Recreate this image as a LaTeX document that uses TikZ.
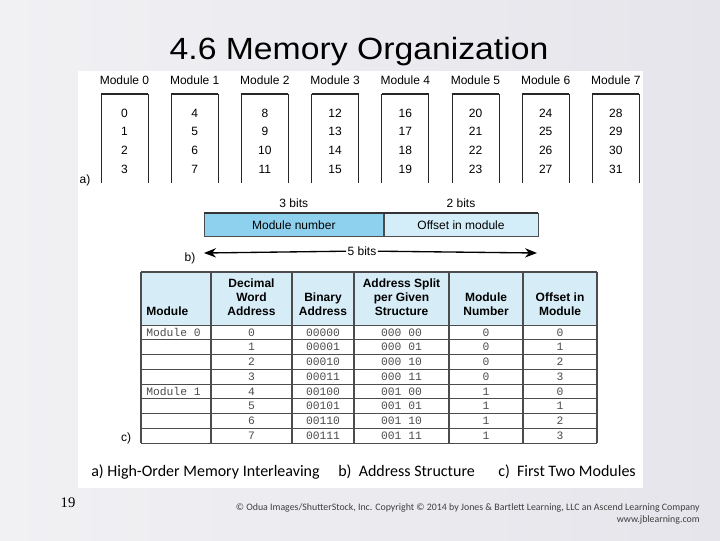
\documentclass[tikz,border=0pt]{standalone}
\usepackage{fontspec}
\setmainfont{Liberation Sans}
\newfontfamily\capfont{Carlito}
\newfontfamily\codefont{Liberation Mono}
\newfontfamily\pagefont{Liberation Serif}
\usepackage{tikz}
\usetikzlibrary{arrows.meta,shapes,calc,positioning}
\definecolor{slideLeft}{RGB}{241,241,244}
\definecolor{slideRight}{RGB}{229,229,235}
\definecolor{azulMedio}{RGB}{142,209,239}
\definecolor{azulClaro}{RGB}{212,238,249}
\definecolor{azulTabla}{RGB}{214,237,248}
\tikzstyle{modlabel} =[font=\fontsize{9}{10}\selectfont, inner sep=0pt]
\tikzstyle{word}     =[font=\fontsize{9}{10}\selectfont, inner sep=0pt]
\tikzstyle{modbox}   =[draw=black!85, line width=0.6pt]
\tikzstyle{field}    =[draw=black!70, line width=0.5pt, inner sep=0pt,
                       font=\fontsize{9}{10}\selectfont,
                       minimum height=17.25pt]
\tikzstyle{headtext} =[font=\fontsize{9}{10.5}\selectfont\bfseries,
                       align=center, inner sep=0pt]
\tikzstyle{bodytext} =[font=\fontsize{8.5}{10}\codefont,
                       text=black!70, inner sep=0pt]
\tikzstyle{tablerule}=[draw=black!70, line width=0.9pt]
\tikzstyle{rowrule}  =[draw=black!70, line width=0.55pt]
\tikzstyle{caption}  =[font=\fontsize{12}{14}\capfont, inner sep=0pt]

\begin{document}
\begin{tikzpicture}[x=0.75pt,y=-0.75pt]
\useasboundingbox (0,0) rectangle (720,540);
\shade[left color=slideLeft,right color=slideRight] (0,0) rectangle (720,540);
\fill[white] (78,71) rectangle (643,488);

\node (title) [anchor=base, inner sep=0pt,
               font=\fontsize{23}{27}\selectfont]
      at (359,59) {\scalebox{1.1}[1]{4.6 Memory Organization}};

%%%%%%%%%%%%%%%%%%%%%%%%%%%%%%%%%%%%%%%%%%%%%%%%
%%%%%%%%%%     a) Eight modules       %%%%%%%%%%
%%%%%%%%%%%%%%%%%%%%%%%%%%%%%%%%%%%%%%%%%%%%%%%%
\begin{scope}
\foreach \m in {0,...,7}{
	\pgfmathsetmacro\cx{124.5+70.2*\m}
	\node (mod\m) [modlabel] at (\cx,80){Module \m};
	\draw [modbox] (\cx-23.5,183) -- (\cx-23.5,94) -- (\cx+23.5,94) -- (\cx+23.5,183);
	\draw [modbox, line width=1.1pt] (\cx-23.5,94) -- (\cx+23.5,94);
	\foreach \r in {0,...,3}{
		\pgfmathtruncatemacro\w{4*\m+\r}
		\node (w\w) [word] at (\cx,{113+18.7*\r}){\w};
	}
}
\node (La) [modlabel] at (85,180){a)};
\end{scope}

%%%%%%%%%%%%%%%%%%%%%%%%%%%%%%%%%%%%%%%%%%%%%%%%
%%%%%%%%%%    b) Address structure    %%%%%%%%%%
%%%%%%%%%%%%%%%%%%%%%%%%%%%%%%%%%%%%%%%%%%%%%%%%
\begin{scope}
\node (modnum) [field, fill=azulMedio, minimum width=134.25pt,
                anchor=north west] at (204,213){Module number};
\node (offset) [field, fill=azulClaro, minimum width=115.5pt,
                anchor=west] at (modnum.east){Offset in module};
\draw [line width=1pt, black!80] (modnum.north west) -- (offset.north east);

\node (bits3) [word, above=4pt of modnum]{3 bits};
\node (bits2) [word, above=4pt of offset]{2 bits};

\coordinate (arrL) at (204,253);
\coordinate (arrR) at (537,253);
\node (bits5) [word, fill=white, inner xsep=1pt] at (362,251){5 bits};
\draw [-{Stealth[length=9pt,width=7pt]}, line width=1pt] (bits5) -- (arrL);
\draw [-{Stealth[length=9pt,width=7pt]}, line width=1pt] (bits5) -- (arrR);

\node (Lb) [modlabel] at (190,258){b)};
\end{scope}

%%%%%%%%%%%%%%%%%%%%%%%%%%%%%%%%%%%%%%%%%%%%%%%%
%%%%%%%%%%   c) First two modules     %%%%%%%%%%
%%%%%%%%%%%%%%%%%%%%%%%%%%%%%%%%%%%%%%%%%%%%%%%%
\begin{scope}
\fill [azulTabla] (141,272) rectangle (597,325);
\foreach \r in {0,...,8}
	\draw [rowrule] (141,{325+14.75*\r}) -- (597,{325+14.75*\r});
\draw [tablerule] (141,272) -- (597,272);
\foreach \x in {141,211,292,354,449,523,597}
	\draw [tablerule] (\x,272) -- (\x,443);

% header, bottom aligned
\node (hMod) [headtext, anchor=south west] at (146,316){Module};
\node (hDec) [headtext, anchor=south] at (251.5,316){Decimal\\Word\\Address};
\node (hBin) [headtext, anchor=south] at (323,316){Binary\\Address};
\node (hSpl) [headtext, anchor=south] at (401.5,316){Address Split\\per Given\\Structure};
\node (hNum) [headtext, anchor=south] at (486,316){Module\\Number};
\node (hOff) [headtext, anchor=south] at (560,316){Offset in\\Module};

\node (m0) [bodytext, anchor=west] at (146,332.4){Module 0};
\node (m1) [bodytext, anchor=west] at (146,{332.4+14.75*4}){Module 1};
\foreach \d/\b/\s/\n/\o [count=\i from 0] in
	{0/00000/000 00/0/0, 1/00001/000 01/0/1, 2/00010/000 10/0/2, 3/00011/000 11/0/3,
	 4/00100/001 00/1/0, 5/00101/001 01/1/1, 6/00110/001 10/1/2, 7/00111/001 11/1/3}{
	\node (dec\i) [bodytext] at (251.5,{332.4+14.75*\i}){\d};
	\node (bin\i) [bodytext] at (323,{332.4+14.75*\i}){\b};
	\node (spl\i) [bodytext] at (401.5,{332.4+14.75*\i}){\s};
	\node (num\i) [bodytext] at (486,{332.4+14.75*\i}){\n};
	\node (off\i) [bodytext] at (560,{332.4+14.75*\i}){\o};
}

\node (Lc) [modlabel] at (126,438){c)};
\end{scope}

% captions and footer
\node (capA) [caption, anchor=base west] at (91,476){a) High-Order Memory Interleaving};
\node (capB) [caption, anchor=base west] at (338,476){b)\ \ Address Structure};
\node (capC) [caption, anchor=base west] at (498,476){c)\ \ First Two Modules};

\node (copy) [anchor=base east, inner sep=0pt, text=black!75,
              font=\fontsize{7.4}{9}\capfont] at (700,510)
      {\textcopyright\ Odua Images/ShutterStock, Inc. Copyright \textcopyright\ 2014 by Jones \& Bartlett Learning, LLC an Ascend Learning Company};
\node (web) [anchor=base east, inner sep=0pt, text=black!75,
             font=\fontsize{7.4}{9}\capfont] at (700,522){www.jblearning.com};

\node (page) [inner sep=0pt, font=\fontsize{11}{13}\pagefont] at (68,503){19};
\end{tikzpicture}
\end{document}
